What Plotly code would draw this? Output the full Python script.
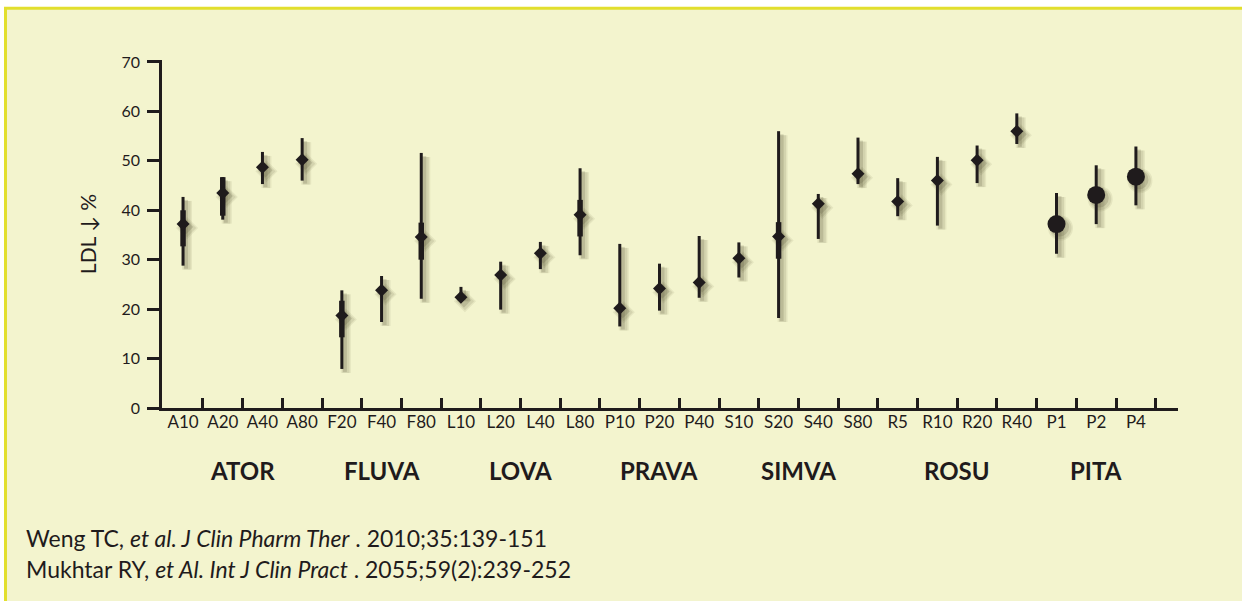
import plotly.graph_objects as go

# ---------------- data ----------------
labels = ["A10", "A20", "A40", "A80", "F20", "F40", "F80", "L10", "L20", "L40", "L80",
          "P10", "P20", "P40", "S10", "S20", "S40", "S80", "R5", "R10", "R20", "R40",
          "P1", "P2", "P4"]
means = [37.2, 43.5, 48.7, 50.2, 18.7, 23.8, 34.6, 22.4, 26.9, 31.3, 39.1,
         20.2, 24.2, 25.4, 30.3, 34.7, 41.3, 47.4, 41.8, 46.0, 50.1, 56.0,
         37.2, 43.1, 46.8]
range_high = [42.7, 46.7, 51.8, 54.6, 23.8, 26.7, 51.6, 24.5, 29.6, 33.6, 48.5,
              33.2, 29.2, 34.8, 33.5, 56.0, 43.3, 54.7, 46.5, 50.8, 53.1, 59.6,
              43.5, 49.1, 52.9]
range_low = [28.8, 38.1, 45.3, 46.0, 7.9, 17.4, 22.1, 22.4, 19.9, 28.1, 30.9,
             16.5, 19.7, 22.3, 26.4, 18.2, 34.2, 45.3, 38.8, 36.9, 45.5, 53.4,
             31.2, 37.2, 41.0]
ci_labels = ["A10", "A20", "F20", "F80", "L80", "S20"]
ci_high = [40.0, 46.7, 21.7, 37.5, 42.1, 37.6]
ci_low = [32.7, 38.9, 14.3, 30.0, 34.7, 30.2]
groups = ["ATOR", "FLUVA", "LOVA", "PRAVA", "SIMVA", "ROSU", "PITA"]
group_sizes = [4, 3, 4, 3, 4, 4, 3]
y_ticks = [0, 10, 20, 30, 40, 50, 60, 70]
citations = [
    "Weng TC, <i>et al. J Clin Pharm Ther</i> . 2010;35:139-151",
    "Mukhtar RY, <i>et Al. Int J Clin Pract</i> . 2055;59(2):239-252",
]

# ---------------- derived ----------------
n = len(labels)
xs = list(range(n))
group_of = []
for g, s in zip(groups, group_sizes):
    group_of += [g] * s
symbols = ["circle" if g == "PITA" else "diamond" for g in group_of]
sizes = [18 if g == "PITA" else 10 for g in group_of]
err_plus = [h - m for h, m in zip(range_high, means)]
err_minus = [m - l for m, l in zip(means, range_low)]
ci_x = [labels.index(c) for c in ci_labels]
ci_mid = [(h + l) / 2 for h, l in zip(ci_high, ci_low)]
ci_err = [(h - l) / 2 for h, l in zip(ci_high, ci_low)]

# ---------------- style / layout ----------------
W, H = 1242, 601
ML, MR, MT, MB = 162, 64, 60, 193
PW, PH = W - ML - MR, H - MT - MB
XR = [-0.53, 25.06]
YR = [0, 70.4]
INK = "#1F1B1C"
BG = "#F3F4CE"
FRAME = "#E2DF2E"
FONT = "Lato, 'Open Sans', sans-serif"

# pixel -> data scale (for the drop shadow offset)
SX = (XR[1] - XR[0]) / PW
SY = (YR[1] - YR[0]) / PH


def px(xp):
    return (xp - ML) / PW


def py(yp):
    return (H - MB - yp) / PH


fig = go.Figure()

# soft drop shadows (layers for a blurred look)
for off, alpha, grow in [(4, 0.08, 7), (4, 0.10, 4), (3, 0.16, 1)]:
    fig.add_trace(go.Scatter(
        x=[x + off * SX for x in xs], y=[m - off * SY for m in means], mode="markers",
        marker=dict(symbol=symbols, size=[s + grow for s in sizes],
                    color=f"rgba(60,58,30,{alpha})", opacity=1, line=dict(width=0)),
        error_y=dict(type="data", array=err_plus, arrayminus=err_minus,
                     thickness=3 + grow, width=0, color=f"rgba(60,58,30,{alpha})"),
        hoverinfo="skip", showlegend=False,
    ))

# thick CI segments
fig.add_trace(go.Scatter(
    x=ci_x, y=ci_mid, mode="markers",
    marker=dict(size=1, color="rgba(0,0,0,0)"),
    error_y=dict(type="data", array=ci_err, symmetric=True,
                 thickness=5.5, width=0, color=INK),
    hoverinfo="skip", showlegend=False,
))

# thin ranges + point markers
fig.add_trace(go.Scatter(
    x=xs, y=means, mode="markers",
    marker=dict(symbol=symbols, size=sizes, color=INK, opacity=1, line=dict(width=0)),
    error_y=dict(type="data", array=err_plus, arrayminus=err_minus,
                 thickness=3, width=0, color=INK),
    text=labels, showlegend=False,
))

annotations = []
# group labels
start = 0
for g, s in zip(groups, group_sizes):
    center = start + (s - 1) / 2
    annotations.append(dict(
        x=center, xref="x", y=py(470), yref="paper", text=f"<b>{g}</b>",
        showarrow=False, xanchor="center", yanchor="middle",
        font=dict(family=FONT, size=24, color=INK),
    ))
    start += s

# citations
for i, c in enumerate(citations):
    annotations.append(dict(
        x=px(24), xref="paper", y=py(538 + 31 * i), yref="paper", text=c,
        showarrow=False, xanchor="left", yanchor="middle",
        font=dict(family=FONT, size=23, color=INK),
    ))

fig.update_layout(
    width=W, height=H,
    margin=dict(l=ML, r=MR, t=MT, b=MB, pad=0),
    paper_bgcolor="white",
    plot_bgcolor="rgba(0,0,0,0)",
    font=dict(family=FONT, color=INK),
    shapes=[dict(
        type="rect", xref="paper", yref="paper", layer="below",
        x0=px(5.5), x1=px(W + 20), y0=py(8.2), y1=py(H + 20),
        line=dict(color=FRAME, width=3), fillcolor=BG,
    )],
    annotations=annotations,
    xaxis=dict(
        range=XR,
        tickmode="array", tickvals=xs, ticktext=labels, ticks="",
        tickfont=dict(size=17, color=INK),
        showline=True, linecolor=INK, linewidth=2.5,
        showgrid=False, zeroline=False,
        minor=dict(tickmode="array", tickvals=[i + 0.5 for i in xs],
                   ticks="inside", ticklen=10, tickwidth=2.5, tickcolor=INK,
                   showgrid=False),
        ticklabelstandoff=-3,
    ),
    yaxis=dict(
        range=YR,
        tickmode="array", tickvals=y_ticks, ticks="outside", ticklen=12,
        tickwidth=2.5, tickcolor=INK,
        tickfont=dict(size=16, color=INK),
        showline=True, linecolor=INK, linewidth=2.5,
        showgrid=False, zeroline=False,
        ticklabelstandoff=4,
        title=dict(text="LDL ↓ %", font=dict(size=21, color=INK), standoff=20),
    ),
)

fig.write_html("out.html",
               config={"displayModeBar": False},
               post_script="document.body.style.margin='0px';document.body.style.overflow='hidden';")
